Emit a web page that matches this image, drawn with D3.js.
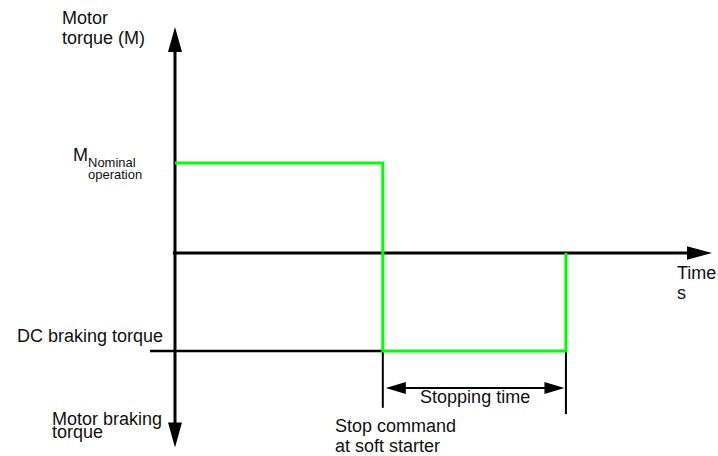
<!DOCTYPE html>
<html>
<head>
<meta charset="utf-8">
<script src="https://cdn.jsdelivr.net/npm/d3@7"></script>
<style>
  body { margin: 0; background: #fff; }
  text { font-family: "Liberation Sans", Arial, sans-serif; fill: #111; }
</style>
</head>
<body>
<div class="plot"></div>
<script>
// torque profile during DC braking (schematic units)
const stepTimes = [0, 38.7, 38.7, 72.8, 72.8];
const stepTorques = [1, 1, -1.09, -1.09, 0];
const stopTime = 38.7,
    endTime = 72.8,
    dcBrakingTorque = -1.09;
const timeExtent = [-0.4, 100];
const torqueExtent = [-2.16, 2.51];
const tickEnds = [-1.72, -1.79];
const stoppingArrowLevel = -1.5;

const width = 718,
    height = 456;

const svg = d3.select(".plot").append("svg")
    .attr("width", width)
    .attr("height", height);

const xScale = d3.scaleLinear().domain([0, 100]).range([175, 712]);
const yScale = d3.scaleLinear().domain([0, 1]).range([253, 163]);

function arrowHead(tx, ty, dx, dy, len, half) {
    // tip at (tx,ty), pointing along (dx,dy)
    const bx = tx - dx * len, by = ty - dy * len;
    const px = -dy * half, py = dx * half;
    return "M" + tx + "," + ty + "L" + (bx + px) + "," + (by + py) + "L" + (bx - px) + "," + (by - py) + "Z";
}

// axes
const x0 = xScale(0), y0 = yScale(0);
svg.append("line")
    .attr("x1", x0).attr("x2", x0)
    .attr("y1", yScale(torqueExtent[1]) + 24).attr("y2", yScale(torqueExtent[0]) - 24)
    .attr("stroke", "#000").attr("stroke-width", 3);
svg.append("path").attr("d", arrowHead(x0, yScale(torqueExtent[1]), 0, -1, 25, 7)).attr("fill", "#000");
svg.append("path").attr("d", arrowHead(x0, yScale(torqueExtent[0]), 0, 1, 25, 7)).attr("fill", "#000");

svg.append("line")
    .attr("x1", xScale(timeExtent[0])).attr("x2", xScale(timeExtent[1]) - 24)
    .attr("y1", y0).attr("y2", y0)
    .attr("stroke", "#000").attr("stroke-width", 3);
svg.append("path").attr("d", arrowHead(xScale(timeExtent[1]), y0, 1, 0, 25, 6.7)).attr("fill", "#000");

// DC braking reference line
svg.append("line")
    .attr("x1", 150).attr("x2", xScale(stopTime))
    .attr("y1", yScale(dcBrakingTorque)).attr("y2", yScale(dcBrakingTorque))
    .attr("stroke", "#000").attr("stroke-width", 2.5);

// stop command / end ticks
[stopTime, endTime].forEach(function(t, i) {
    svg.append("line")
        .attr("x1", xScale(t)).attr("x2", xScale(t))
        .attr("y1", yScale(dcBrakingTorque)).attr("y2", yScale(tickEnds[i]))
        .attr("stroke", "#000").attr("stroke-width", 2);
});

// stopping time double arrow
const ay = yScale(stoppingArrowLevel);
const ax1 = xScale(stopTime) + 3, ax2 = xScale(endTime) - 1.5;
svg.append("line")
    .attr("x1", ax1 + 18).attr("x2", ax2 - 18)
    .attr("y1", ay).attr("y2", ay)
    .attr("stroke", "#000").attr("stroke-width", 2);
svg.append("path").attr("d", arrowHead(ax1, ay, -1, 0, 20, 6)).attr("fill", "#000");
svg.append("path").attr("d", arrowHead(ax2, ay, 1, 0, 20, 6)).attr("fill", "#000");

// torque profile
const line = d3.line()
    .x(function(d) { return xScale(d[0]); })
    .y(function(d) { return yScale(d[1]); });
svg.append("path")
    .datum(d3.zip(stepTimes, stepTorques))
    .attr("d", line)
    .attr("fill", "none")
    .attr("stroke", "#00ff00")
    .attr("stroke-width", 3);

// labels
function label(x, y, s, size, anchor) {
    svg.append("text")
        .attr("x", x).attr("y", y)
        .attr("font-size", size || 18)
        .attr("text-anchor", anchor || "start")
        .text(s);
}
label(62, 24, "Motor");
label(62, 44, "torque (M)");
label(73, 161, "M");
label(88, 167, "Nominal", 13);
label(88, 179, "operation", 13);
label(163, yScale(dcBrakingTorque) - 9, "DC braking torque", 18, "end");
label(52, 425, "Motor braking");
label(52, 438, "torque");
label(677, 279, "Time");
label(677, 299, "s");
label((ax1 + ax2) / 2, ay + 15, "Stopping time", 18, "middle");
label(335, 432, "Stop command");
label(335, 452, "at soft starter");
</script>
</body>
</html>
